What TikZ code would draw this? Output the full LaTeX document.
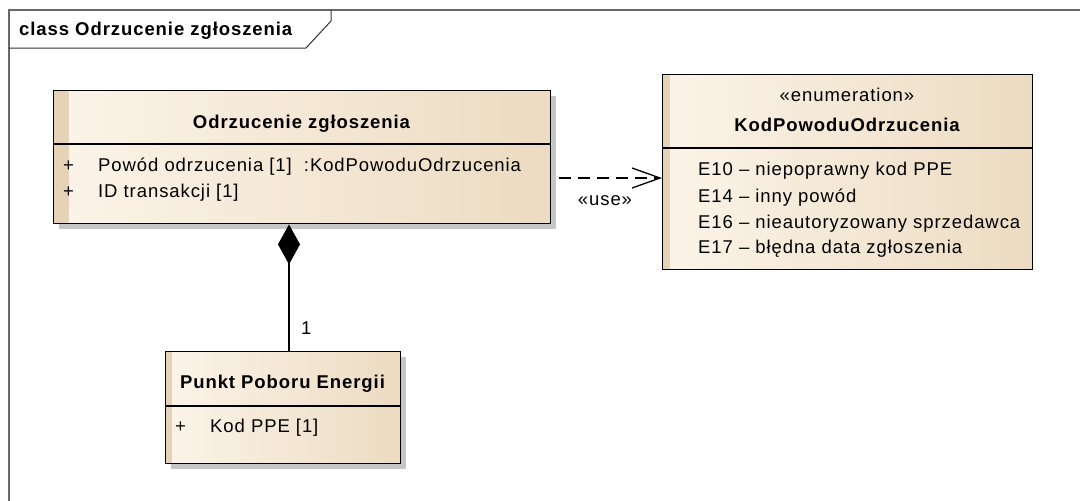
\documentclass[tikz,border=0pt]{standalone}
\usepackage{fontspec}
\setmainfont{Liberation Sans}[LetterSpace=5]
\usetikzlibrary{arrows.meta,shadows}

\definecolor{classlight}{RGB}{252,244,233}
\definecolor{classdark}{RGB}{236,219,193}
\definecolor{classstripe}{RGB}{229,210,183}
\definecolor{classshadow}{RGB}{198,198,198}
\definecolor{framegray}{RGB}{105,105,105}

\begin{document}
\begin{tikzpicture}[x=1pt, y=-1pt,
    font=\fontsize{18.5pt}{21pt}\selectfont,
    umlclass/.style={draw, line width=1.4pt, left color=classlight, right color=classdark,
        inner sep=0pt, anchor=north west,
        path picture={\fill[classstripe] (path picture bounding box.north west)
            rectangle ([xshift=#1]path picture bounding box.south west);}},
    shadowed/.style={drop shadow={shadow xshift=5pt, shadow yshift=-5pt,
        fill=classshadow, opacity=1}},
    txt/.style={anchor=base west, inner sep=0pt},
    ctxt/.style={anchor=base, inner sep=0pt},
    boldtxt/.style={font=\fontsize{18.5pt}{21pt}\selectfont\bfseries},
    divider/.style={line width=1.4pt}]

    \useasboundingbox[fill=white] (0,0) rectangle (1080,501);

    % diagram frame
    \draw[framegray, line width=2pt] (8.5,501) -- (8.5,10) -- (1080,10);
    \draw[line width=1pt, black!80] (8.5,48) -- (306,48) -- (331,21) -- (331,10);
    \node[txt, boldtxt] (frametitle) at (19,35) {class Odrzucenie zgłoszenia};

    % classes
    \node[umlclass=15pt, shadowed, minimum width=497pt, minimum height=133pt] (odrz) at (53,90) {};
    \node[umlclass=7pt, minimum width=370pt, minimum height=195pt] (enum) at (662,74) {};
    \node[umlclass=6pt, shadowed, minimum width=235pt, minimum height=112pt] (ppe) at (165,351) {};

    \coordinate (odrzdiv) at (0,144);
    \coordinate (enumdiv) at (0,148);
    \coordinate (ppediv) at (0,406);
    \draw[divider] (odrz.west |- odrzdiv) -- (odrz.east |- odrzdiv);
    \draw[divider] (enum.west |- enumdiv) -- (enum.east |- enumdiv);
    \draw[divider] (ppe.west |- ppediv) -- (ppe.east |- ppediv);

    \node[ctxt, boldtxt] (odrzname) at (301.5,128) {Odrzucenie zgłoszenia};
    \node[txt] (odrzplusa) at (63,171) {+};
    \node[txt] (odrzattra) at (98,171) {Powód odrzucenia [1]\ \ :KodPowoduOdrzucenia};
    \node[txt] (odrzplusb) at (63,197) {+};
    \node[txt] (odrzattrb) at (98,197) {ID transakcji [1]};

    \node[ctxt] (enumstereo) at (847,101) {«enumeration»};
    \node[ctxt, boldtxt] (enumname) at (847,131) {KodPowoduOdrzucenia};
    \node[txt] (enumlita) at (698,175) {E10 – niepoprawny kod PPE};
    \node[txt] (enumlitb) at (698,202) {E14 – inny powód};
    \node[txt] (enumlitc) at (698,228) {E16 – nieautoryzowany sprzedawca};
    \node[txt] (enumlitd) at (698,253) {E17 – błędna data zgłoszenia};

    \node[ctxt, boldtxt] (ppename) at (282.5,388) {Punkt Poboru Energii};
    \node[txt] (ppeplus) at (175,432) {+};
    \node[txt] (ppeattr) at (210,432) {Kod PPE [1]};

    % composition
    \coordinate (compx) at (289,0);
    \draw[line width=1.3pt, {Diamond[length=40pt,width=22pt]}-]
        (odrz.south -| compx) -- (ppe.north -| compx);
    \node[txt] (compmult) at (301,334) {1};

    % usage
    \coordinate (usey) at (0,178);
    \draw[line width=1.3pt, dash pattern=on 12pt off 7pt, -{Straight Barb[length=28pt,width=20pt]}]
        ([xshift=8pt]odrz.east |- usey) -- (enum.west |- usey);
    \node[ctxt] (uselabel) at (605,205) {«use»};
\end{tikzpicture}
\end{document}
